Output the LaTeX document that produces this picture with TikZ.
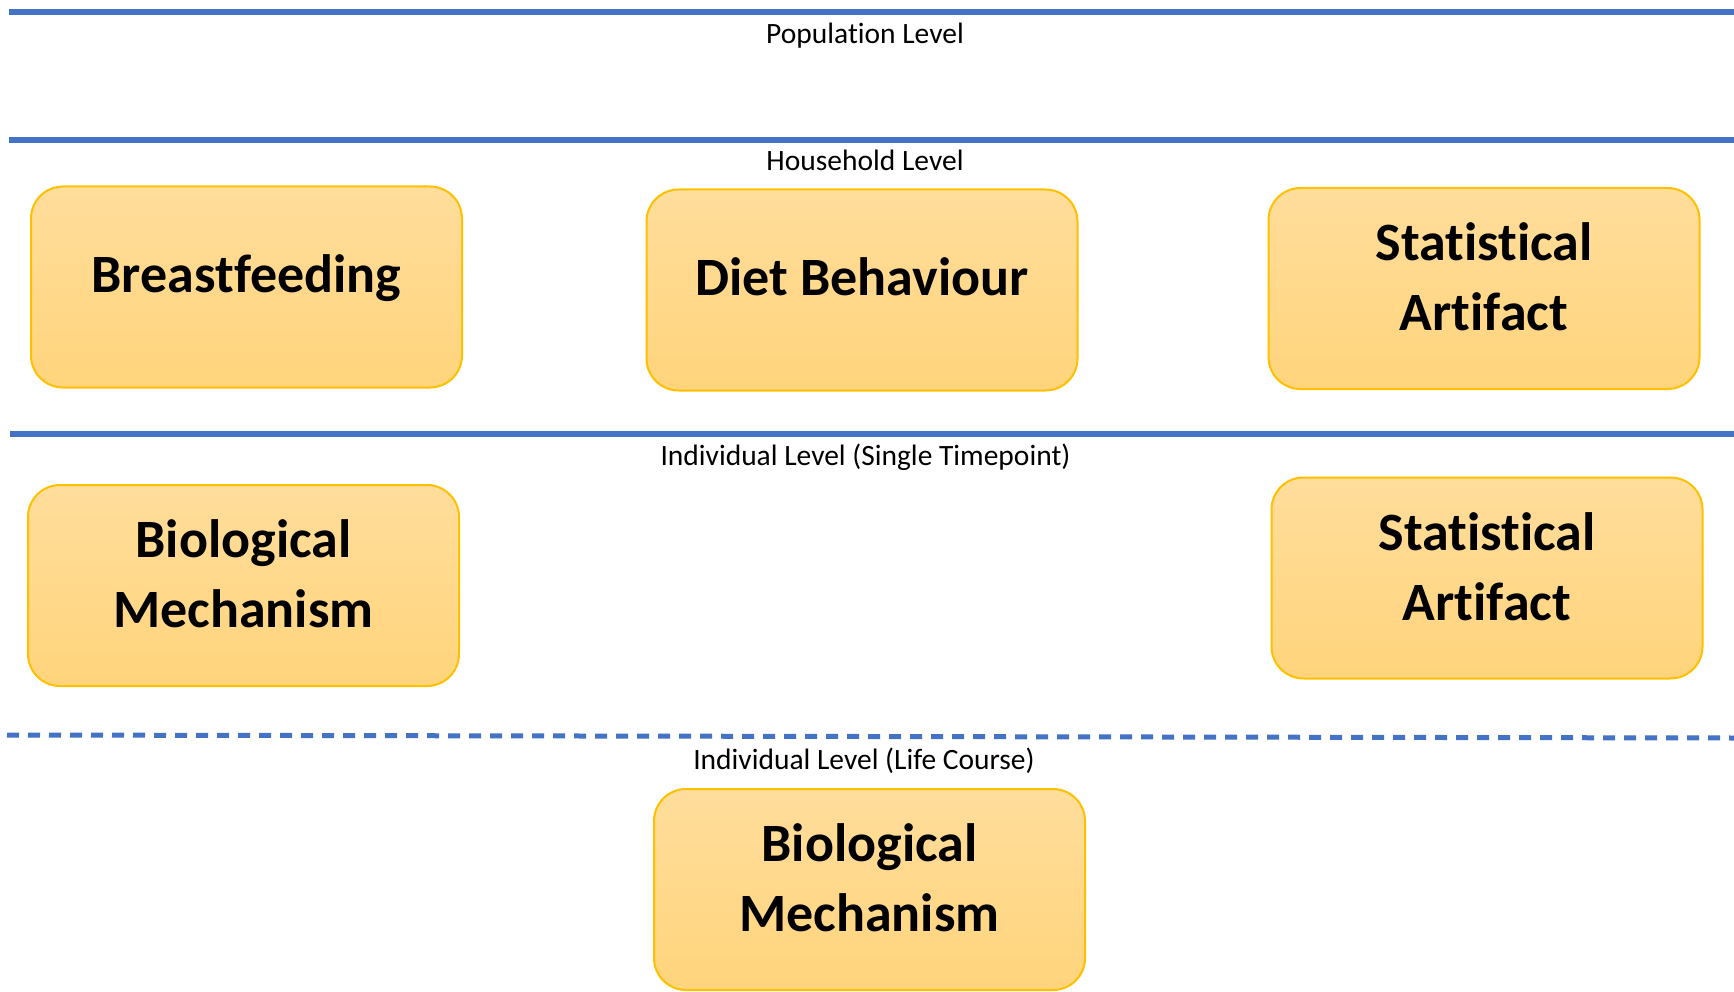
\documentclass[tikz,border=0pt]{standalone}
\usepackage{fontspec}
\setmainfont{Carlito}[Ligatures=NoCommon]
\usepackage{tikz}
\usetikzlibrary{positioning}
\usepackage{xcolor}
\definecolor{lineblue}{RGB}{68,114,196}
\definecolor{goldtop}{RGB}{255,221,155}
\definecolor{goldbot}{RGB}{255,212,124}
\definecolor{goldedge}{RGB}{255,192,0}

\begin{document}
\begin{tikzpicture}[
  x=1pt, y=-1pt,
  box/.style={rectangle, draw=goldedge, line width=2pt, rounded corners=32pt, top color=goldtop, bottom color=goldbot, minimum width=431pt, minimum height=201pt, inner sep=0pt, align=center, font=\fontsize{54}{70}\selectfont\bfseries},
  oneline/.style={text height=40pt, text depth=30pt},
  twoline/.style={text height=110pt, text depth=26pt},
  levellabel/.style={anchor=base, inner sep=0pt, font=\fontsize{29.5}{35}\selectfont},
  levelline/.style={lineblue, line width=6pt}
]
  \useasboundingbox (0,0) rectangle (1734,992);

  % level separators
  \draw[levelline] (9,12) -- (1734,12);
  \draw[levelline] (9,140) -- (1734,140);
  \draw[levelline] (10,433.5) -- (1734,433.5);
  \draw[levelline, line width=5pt, dash pattern=on 12pt off 9pt] (7,735) -- (1734,738);

  \node[levellabel] (pop) at (865,44) {Population Level};
  \node[levellabel] (house) at (865,171) {Household Level};
  \node[levellabel] (single) at (865.5,465) {Individual Level (Single Timepoint)};
  \node[levellabel] (life) at (864,769) {Individual Level (Life Course)};

  \node[box, oneline] (breast) at (246.5,287) {Breastfeeding};
  \node[box, oneline] (diet) at (862,290) {Diet Behaviour};
  \node[box, twoline] (stathouse) at (1484,288.5) {Statistical\\Artifact};

  \node[box, twoline] (bioind) at (243.5,585.5) {Biological\\Mechanism};
  \node[box, twoline] (statind) at (1487,578) {Statistical\\Artifact};

  \node[box, twoline] (biolife) at (869.5,889.5) {Biological\\Mechanism};
\end{tikzpicture}
\end{document}
